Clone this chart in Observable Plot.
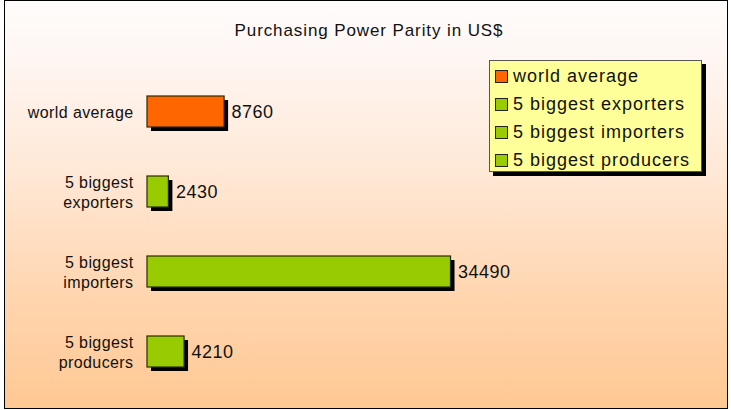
<!DOCTYPE html>
<html>
<head>
<meta charset="utf-8">
<script src="https://cdn.jsdelivr.net/npm/d3@7"></script>
<script src="https://cdn.jsdelivr.net/npm/@observablehq/plot@0.6"></script>
<style>
  html, body { margin: 0; padding: 0; width: 731px; height: 410px; overflow: hidden; background: #fff; font-family: "Liberation Sans", Arial, sans-serif; }
  #frame { position: absolute; left: 4px; top: 0px; width: 722px; height: 407px; border: 1px solid #000;
    background: linear-gradient(to bottom, #fffcfb 0%, #fef7f4 12%, #ffe8d6 42%, #ffd6b0 72%, #ffc893 100%); }
  #chart { position: absolute; left: 0; top: 0; }
  #title { position: absolute; left: 0; width: 738px; top: 21px; text-align: center; font-size: 17px; letter-spacing: 0.9px; color: #111; }
  #legend { position: absolute; left: 489px; top: 60px; width: 211px; height: 110px; background: #ffff99; border: 1px solid #555; box-shadow: 4px 4px 0 #000; }
  .row { position: absolute; left: 5px; height: 20px; display: flex; align-items: center; font-size: 18px; letter-spacing: 1px; color: #111; white-space: nowrap; }
  .sw { width: 11px; height: 11px; border: 1px solid #222; margin-right: 5px; flex: none; }
</style>
</head>
<body>
<div id="frame"></div>
<div id="chart"></div>
<div id="title"></div>
<div id="legend"></div>
<script>
const categories = ["world average", "5 biggest exporters", "5 biggest importers", "5 biggest producers"];
const axisLabels = ["world average", "5 biggest\nexporters", "5 biggest\nimporters", "5 biggest\nproducers"];
const values = [8760, 2430, 34490, 4210];
const colors = ["#ff6600", "#99cc00", "#99cc00", "#99cc00"];
const title = "Purchasing Power Parity in US$";

const data = categories.map((c, i) => ({category: c, label: axisLabels[i], value: values[i], color: colors[i]}));

const chart = Plot.plot({
  width: 731,
  height: 410,
  marginLeft: 147,
  marginRight: 232,
  marginTop: 71,
  marginBottom: 19,
  style: {background: "transparent", fontFamily: "Liberation Sans, Arial, sans-serif", overflow: "visible"},
  x: {domain: [0, 40000], axis: null},
  y: {domain: categories, paddingInner: 0.6125, paddingOuter: 0.30625, axis: null},
  color: {type: "identity"},
  marks: [
    Plot.barX(data, {x: "value", y: "category", fill: "#000", dx: 4, dy: 4}),
    Plot.barX(data, {x: "value", y: "category", fill: "color", stroke: "#2a2a00", strokeWidth: 1.2}),
    Plot.text(data, {x: "value", y: "category", text: d => String(d.value), textAnchor: "start", dx: 7, fontSize: 18, fill: "#111", style: "letter-spacing:0.5px"}),
    Plot.text(data, {x: 0, y: "category", text: "label", textAnchor: "end", dx: -14, fontSize: 16, lineHeight: 1.25, fill: "#111"})
  ]
});
chart.querySelectorAll("text").forEach(t => {
  const fs = t.closest("g").getAttribute("font-size");
  t.style.letterSpacing = fs === "18" ? "0.5px" : "0.4px";
});
document.getElementById("chart").appendChild(chart);
document.getElementById("title").textContent = title;

const legend = document.getElementById("legend");
categories.forEach((c, i) => {
  const row = document.createElement("div");
  row.className = "row";
  row.style.top = (5 + i * 28) + "px";
  const sw = document.createElement("span");
  sw.className = "sw";
  sw.style.background = colors[i];
  const tx = document.createElement("span");
  tx.textContent = c;
  row.appendChild(sw);
  row.appendChild(tx);
  legend.appendChild(row);
});
</script>
</body>
</html>
